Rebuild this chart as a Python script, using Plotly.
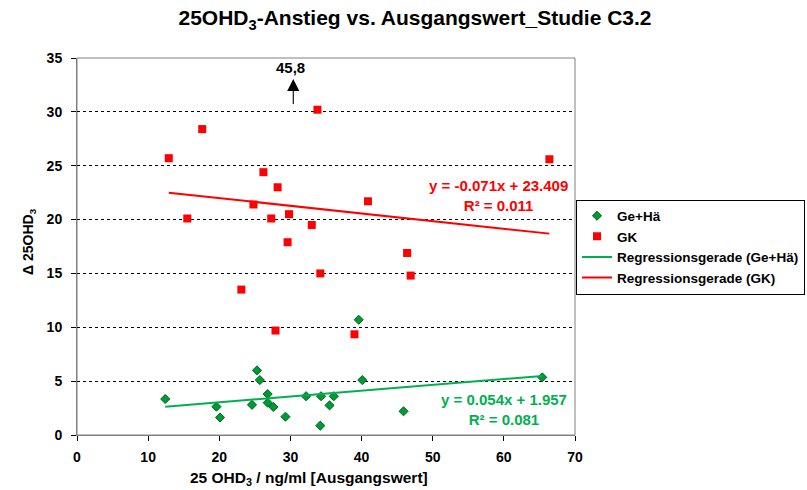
import plotly.graph_objects as go

# Ausgangswert (x) und Anstieg (y) je Gruppe
gehae_x = [12.4, 19.6, 20.1, 24.6, 25.3, 25.7, 26.8, 26.8, 27.6, 29.3,
           32.2, 34.3, 34.2, 35.5, 36.1, 39.6, 40.1, 45.9, 65.4]
gehae_y = [3.34, 2.63, 1.63, 2.8, 6.0, 5.1, 3.8, 3.0, 2.6, 1.7,
           3.6, 3.6, 0.87, 2.75, 3.6, 10.7, 5.1, 2.2, 5.35]

gk_x = [12.9, 15.5, 17.6, 23.1, 24.8, 26.2, 27.3, 27.9, 28.2, 29.6,
        29.8, 30.4, 33.0, 33.8, 34.2, 39.0, 40.9, 46.4, 46.9, 66.4]
gk_y = [25.7, 20.1, 28.4, 13.5, 21.4, 24.4, 20.1, 9.7, 23.0, 17.9,
        20.5, 45.8, 19.5, 30.2, 15.0, 9.35, 21.7, 16.9, 14.8, 25.6]

# Regressionsgeraden y = m*x + b, dazu R²
gehae_fit = (0.054, 1.957, 0.081)
gk_fit = (-0.071, 23.409, 0.011)

x_ticks = [0, 10, 20, 30, 40, 50, 60, 70]
y_ticks = [0, 5, 10, 15, 20, 25, 30, 35]

FONT = "Liberation Sans, Arial, sans-serif"
GREEN = "#009933"
GREEN_LINE = "#00B050"
RED = "#FF0000"
GRAY = "#808080"

W, H = 807, 490
M_L, M_R, M_T, M_B = 77, 232, 58, 55


def fit_line(xs, m, b):
    lo, hi = min(xs), max(xs)
    return [lo, hi], [m * lo + b, m * hi + b]


def bold(size, color="black"):
    return dict(family=FONT, size=size, color=color, weight="bold")


fig = go.Figure()

fig.add_trace(go.Scatter(
    x=gehae_x, y=gehae_y, mode="markers", name="Ge+Hä",
    marker=dict(symbol="diamond", size=7, color=GREEN,
                line=dict(color="#006622", width=1)),
))
fig.add_trace(go.Scatter(
    x=gk_x, y=gk_y, mode="markers", name="GK",
    marker=dict(symbol="square", size=8, color=RED),
))

lx, ly = fit_line(gehae_x, gehae_fit[0], gehae_fit[1])
fig.add_trace(go.Scatter(x=lx, y=ly, mode="lines", name="Regressionsgerade (Ge+Hä)",
                         line=dict(color=GREEN_LINE, width=2)))
lx, ly = fit_line(gk_x, gk_fit[0], gk_fit[1])
fig.add_trace(go.Scatter(x=lx, y=ly, mode="lines", name="Regressionsgerade (GK)",
                         line=dict(color=RED, width=2)))

# Gleichungen der Regressionsgeraden
fig.add_annotation(x=59.2, y=22.2, xref="x", yref="y", showarrow=False,
                   text=f"y = {gk_fit[0]:.3f}x + {gk_fit[1]:.3f}<br>R² = {gk_fit[2]:.3f}",
                   font=bold(15, RED), align="center")
fig.add_annotation(x=60.0, y=2.35, xref="x", yref="y", showarrow=False,
                   text=f"y = {gehae_fit[0]:.3f}x + {gehae_fit[1]:.3f}<br>R² = {gehae_fit[2]:.3f}",
                   font=bold(15, GREEN_LINE), align="center")

# Ausreißer oberhalb der Skala: Pfeil mit Wert
outlier_x = gk_x[gk_y.index(max(gk_y))]
fig.add_annotation(x=outlier_x, y=33.05, ax=outlier_x, ay=30.6, xref="x", yref="y",
                   axref="x", ayref="y", text="", showarrow=True,
                   font=dict(size=1), standoff=0, startstandoff=0,
                   arrowhead=2, arrowsize=2.2, arrowwidth=1.1, arrowcolor="black")
fig.add_annotation(x=outlier_x, y=34.15, xref="x", yref="y", showarrow=False,
                   xshift=-3, text=f"{max(gk_y):.1f}".replace(".", ","),
                   font=bold(15))

# Achsentitel
plot_h = H - M_T - M_B
plot_w = W - M_L - M_R
fig.add_annotation(x=(309 - M_L) / plot_w, y=-(479 - (H - M_B)) / plot_h,
                   xref="paper", yref="paper", showarrow=False,
                   text="25 OHD<sub>3</sub> / ng/ml [Ausgangswert]", font=bold(15.5),
                   xanchor="center", yanchor="middle")
fig.add_annotation(x=(29 - M_L) / plot_w, y=((H - M_B) - 242) / plot_h,
                   xref="paper", yref="paper", showarrow=False,
                   text="Δ 25OHD<sub>3</sub>", textangle=-90, font=bold(14),
                   xanchor="center", yanchor="middle")

# Rahmen der Zeichenfläche
fig.add_shape(type="rect", xref="paper", yref="paper", x0=0, y0=0, x1=1, y1=1,
              line=dict(color=GRAY, width=1), layer="below")

fig.update_layout(
    width=W, height=H,
    margin=dict(l=M_L, r=M_R, t=M_T, b=M_B, autoexpand=False),
    paper_bgcolor="white", plot_bgcolor="white",
    title=dict(text="25OHD<sub>3</sub>-Anstieg vs. Ausgangswert_Studie C3.2",
               xref="container", x=415 / W, xanchor="center",
               yref="container", y=1 - 18 / H, yanchor="middle",
               font=bold(21)),
    font=dict(family=FONT, size=14, color="black"),
    showlegend=True,
    legend=dict(xref="container", x=576 / W, xanchor="left",
                yref="container", y=1 - 199.5 / H, yanchor="top",
                bordercolor="black", borderwidth=1, bgcolor="white",
                font=bold(13.5)),
    xaxis=dict(range=[0, 70], tickvals=x_ticks, ticks="outside", ticklen=5,
               tickcolor="black", showline=True, linecolor=GRAY, linewidth=1,
               showgrid=False, zeroline=False, tickfont=bold(14),
               ticklabelstandoff=4),
    yaxis=dict(range=[0, 35], tickvals=y_ticks, ticks="outside", ticklen=5,
               tickcolor="black", showline=True, linecolor=GRAY, linewidth=1,
               showgrid=True, gridcolor="black", gridwidth=1, griddash="dot",
               zeroline=False, tickfont=bold(14), ticklabelstandoff=6),
)

fig.write_html("out.html")
